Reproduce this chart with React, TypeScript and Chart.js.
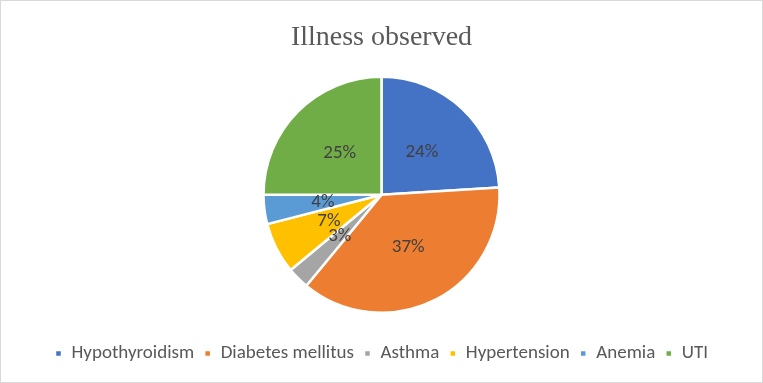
import React, { useEffect, useRef } from "react";
import { Chart, registerables } from "chart.js";

Chart.register(...registerables);

const categories = ["Hypothyroidism", "Diabetes mellitus", "Asthma", "Hypertension", "Anemia", "UTI"];
const values = [24, 37, 3, 7, 4, 25];
const colors = ["#4472C4", "#ED7D31", "#A5A5A5", "#FFC000", "#5B9BD5", "#70AD47"];

const labelPlugin = {
  id: "sliceLabels",
  afterDatasetsDraw(chart: any) {
    const ctx = chart.ctx;
    const meta = chart.getDatasetMeta(0);
    const total = values.reduce((a, b) => a + b, 0);
    ctx.save();
    ctx.font = "19px Carlito, Lato, 'Liberation Sans', sans-serif";
    ctx.fillStyle = "#404040";
    ctx.textAlign = "center";
    ctx.textBaseline = "middle";
    meta.data.forEach((arc: any, i: number) => {
      const { x, y, startAngle, endAngle, outerRadius } = arc.getProps(
        ["x", "y", "startAngle", "endAngle", "outerRadius"],
        true
      );
      const mid = (startAngle + endAngle) / 2;
      const r = outerRadius * 0.5;
      const pct = Math.round((values[i] / total) * 100) + "%";
      ctx.fillText(pct, x + Math.cos(mid) * r, y + Math.sin(mid) * r);
    });
    ctx.restore();
  },
};

export default function App() {
  const ref = useRef<HTMLCanvasElement>(null);
  useEffect(() => {
    document.body.style.margin = "0";
    const chart = new Chart(ref.current!, {
      type: "pie",
      data: {
        labels: categories,
        datasets: [
          {
            data: values,
            backgroundColor: colors,
            borderColor: "#FFFFFF",
            borderWidth: 2.5,
            radius: 118,
          },
        ],
      },
      options: {
        animation: false,
        responsive: false,
        layout: { padding: { top: 0, bottom: 9, left: 0, right: 0 } },
        plugins: {
          title: {
            display: true,
            text: "Illness observed",
            color: "#595959",
            font: { family: "'Liberation Serif', 'Times New Roman', serif", size: 28, weight: "normal" },
            padding: { top: 20, bottom: 1 },
          },
          legend: {
            position: "bottom",
            labels: {
              color: "#595959",
              font: { family: "Carlito, Lato, 'Liberation Sans', sans-serif", size: 19 },
              boxWidth: 7,
              boxHeight: 7,
              padding: 10,
            },
          },
          tooltip: { enabled: false },
        },
      },
      plugins: [labelPlugin],
    });
    return () => chart.destroy();
  }, []);
  return (
    <div style={{ width: 763, height: 383, boxSizing: "border-box", border: "1px solid #D9D9D9", background: "#fff" }}>
      <canvas ref={ref} width={761} height={381} />
    </div>
  );
}
